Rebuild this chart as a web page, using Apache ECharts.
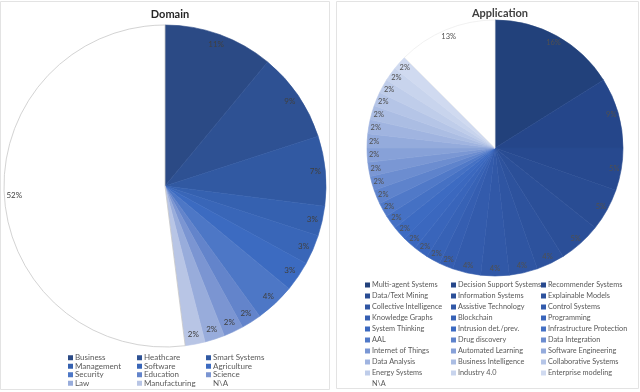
<!DOCTYPE html>
<html>
<head>
<meta charset="utf-8">
<script src="https://cdn.jsdelivr.net/npm/echarts@6/dist/echarts.min.js"></script>
<style>
html,body{margin:0;padding:0;background:#fff;}
#chart{width:640px;height:392px;}
</style>
</head>
<body>
<div id="chart"></div>
<script>
// Domain pie
var domainNames = ['Business','Heathcare','Smart Systems','Management','Software','Agriculture','Security','Education','Science','Law','Manufacturing','N\\A'];
var domainValues = [11,9,7,3,3,3,4,2,2,2,2,52];

// Application pie (counts, total 56)
var appNames = ['Multi-agent Systems','Decision Support Systems','Recommender Systems','Data/Text Mining','Information Systems','Explainable Models',
	'Collective Intelligence','Assistive Technology','Control Systems','Knowledge Graphs','Blockchain','Programming',
	'System Thinking','Intrusion det./prev.','Infrastructure Protection','AAL','Drug discovery','Data Integration',
	'Internet of Things','Automated Learning','Software Engineering','Data Analysis','Business Intelligence','Collaborative Systems',
	'Energy Systems','Industry 4.0','Enterprise modeling','N\\A'];
var appValues = [9,5,3,3,3,2,2,2,2,1,1,1,1,1,1,1,1,1,1,1,1,1,1,1,1,1,1,7];

var domainColors = ['#2b4a85','#2e5193','#3159a2','#3561b0','#3966b8','#3c6bc1','#4d77c6','#6384cb','#7b95d2','#98acdb','#b8c5e5','#ffffff'];
var appColors = ['#22417b','#25468a','#27498f','#294c93','#2b4f98','#2d529d','#2f55a2','#3158a7','#335bac','#355eb1',
	'#3762b6','#3965bb','#3b68bf','#3d6bc2','#4571c4','#5079c8','#5e83cc','#6c8dd0','#7a97d4','#87a1d8',
	'#94abdc','#a0b4e0','#abbde3','#b5c5e7','#bfcdea','#c8d4ed','#d0daf0','#ffffff'];

var FONT = 'Lato, "Open Sans", sans-serif';

function pieData(names, values, colors, edge){
	return names.map(function(n,i){
		var st = {color:colors[i], borderColor:colors[i], borderWidth:0.6};
		// only the white N\A slice gets a grey outline
		if(colors[i]=='#ffffff'){ st.borderColor = edge; st.borderWidth = 0.8; }
		return {name:n, value:values[i], itemStyle:st};
	});
}

function labelData(names, values){
	return names.map(function(n,i){
		return {name:n, value:values[i]};
	});
}

function pct(p){ return Math.round(p.percent) + '%'; }

// legends laid out as 3 columns, row-major like the original
function columnLegends(names, colors, lefts, top, rowH, fs){
	var out = [];
	for(var c=0;c<3;c++){
		var data = [];
		for(var i=c;i<names.length;i+=3){
			data.push({name:names[i], itemStyle:{color:colors[i], borderWidth:0}});
		}
		out.push({
			orient:'vertical',
			left:lefts[c],
			top:top,
			padding:0,
			itemGap:0,
			itemWidth:5,
			itemHeight:5,
			icon:'rect',
			selectedMode:false,
			itemStyle:{borderWidth:0},
			data:data,
			textStyle:{fontFamily:FONT, fontSize:fs, color:'#595959', lineHeight:rowH, padding:[0,0,0,-3]}
		});
	}
	return out;
}

var chart = echarts.init(document.getElementById('chart'));

var legends = columnLegends(domainNames, domainColors, [68,137,206], 353.5, 8.5, 8)
	.concat(columnLegends(appNames, appColors, [365,451,541], 279.5, 11, 7.3));

var option = {
	animation:false,
	backgroundColor:'#fff',
	title:[
		{text:'Domain', left:165, top:4, textAlign:'center',
			textStyle:{fontFamily:FONT, fontSize:11, fontWeight:'bold', color:'#262626'}},
		{text:'Application', left:495, top:3, textAlign:'center',
			textStyle:{fontFamily:FONT, fontSize:11, fontWeight:'bold', color:'#404040'}}
	],
	legend:legends,
	graphic:[
		{type:'rect', shape:{x:0.5,y:1.5,width:329,height:388}, style:{fill:'none', stroke:'#e3e3e3', lineWidth:1}, silent:true, z:-10},
		{type:'rect', shape:{x:336.5,y:1.5,width:302,height:387}, style:{fill:'none', stroke:'#e3e3e3', lineWidth:1}, silent:true, z:-10}
	],
	series:[
		{
			type:'pie', name:'Domain', center:[165,186], radius:[0,161],
			startAngle:90, clockwise:true, avoidLabelOverlap:false, silent:true,
			label:{show:false}, labelLine:{show:false},
			data:pieData(domainNames, domainValues, domainColors, '#c8c8c8')
		},
		{
			// label ring: puts the percentages near the rim
			type:'pie', name:'DomainLabels', center:[165,186], radius:[135,161],
			startAngle:90, clockwise:true, avoidLabelOverlap:false, silent:true,
			itemStyle:{color:'rgba(0,0,0,0)', borderWidth:0},
			label:{show:true, position:'inside', formatter:pct, fontFamily:FONT, fontSize:8, color:'#404040'},
			labelLine:{show:false},
			data:labelData(domainNames, domainValues)
		},
		{
			type:'pie', name:'Application', center:[495,148], radius:[0,128],
			startAngle:90, clockwise:true, avoidLabelOverlap:false, silent:true,
			label:{show:false}, labelLine:{show:false},
			data:pieData(appNames, appValues, appColors, '#eeeeee')
		},
		{
			type:'pie', name:'ApplicationLabels', center:[495,148], radius:[108,128],
			startAngle:90, clockwise:true, avoidLabelOverlap:false, silent:true,
			itemStyle:{color:'rgba(0,0,0,0)', borderWidth:0},
			label:{show:true, position:'inside', formatter:pct, fontFamily:FONT, fontSize:7.5, color:'#505050'},
			labelLine:{show:false},
			data:labelData(appNames, appValues)
		}
	]
};

chart.setOption(option);
</script>
</body>
</html>
